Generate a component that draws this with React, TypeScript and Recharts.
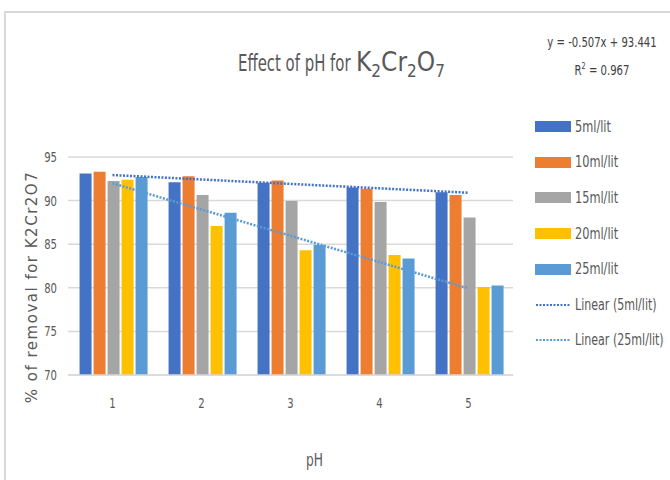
import { Bar, CartesianGrid, ComposedChart, Line, XAxis, YAxis } from 'recharts';

const phLevels = ['1', '2', '3', '4', '5'];
const dose5 = [93.1, 92.1, 92.05, 91.5, 90.95];
const dose10 = [93.3, 92.8, 92.3, 91.35, 90.65];
const dose15 = [92.25, 90.65, 89.95, 89.85, 88.05];
const dose20 = [92.4, 87.1, 84.3, 83.75, 80.1];
const dose25 = [92.7, 88.6, 84.9, 83.35, 80.25];
// trendline ends (gap in between is bridged)
const trend5 = [92.93, null, null, null, 90.9];
const trend25 = [91.99, null, null, null, 79.93];
const yTicks = [70, 75, 80, 85, 90, 95];

const seriesNames = ['5ml/lit', '10ml/lit', '15ml/lit', '20ml/lit', '25ml/lit'];
const seriesColors = ['#4472C4', '#ED7D31', '#A5A5A5', '#FFC000', '#5B9BD5'];
const trendNames = ['Linear (5ml/lit)', 'Linear (25ml/lit)'];
const trendColors = ['#4472C4', '#5B9BD5'];

const font = "'DejaVu Sans Condensed', 'DejaVu Sans', sans-serif";

const data = phLevels.map((ph, i) => ({
  ph,
  d5: dose5[i],
  d10: dose10[i],
  d15: dose15[i],
  d20: dose20[i],
  d25: dose25[i],
  t5: trend5[i],
  t25: trend25[i],
}));

const barKeys = ['d5', 'd10', 'd15', 'd20', 'd25'];

// condensed look: squeeze the text horizontally
const YTick = ({ x, y, payload }: any) => (
  <text
    transform={`translate(${x},${y}) scale(0.8,1)`}
    textAnchor='end'
    dy='0.36em'
    fill='#595959'
    fontSize={14}
    fontFamily={font}
  >
    {payload.value}
  </text>
);

const XTick = ({ x, y, payload }: any) => (
  <text
    transform={`translate(${x},${y}) scale(0.8,1)`}
    textAnchor='middle'
    dy='0.71em'
    fill='#595959'
    fontSize={14}
    fontFamily={font}
  >
    {payload.value}
  </text>
);

const squeeze = (s: number) => ({
  display: 'inline-block',
  transform: `scaleX(${s})`,
  transformOrigin: 'left center',
  whiteSpace: 'nowrap' as const,
});

const LegendBox = () => (
  <div style={{ position: 'absolute', left: 535, top: 109, fontFamily: font, fontSize: 15, color: '#595959' }}>
    {seriesNames.map((name, i) => (
      <div key={name} style={{ display: 'flex', alignItems: 'center', height: 35.6 }}>
        <div style={{ width: 36, height: 11, background: seriesColors[i], marginRight: 4 }} />
        <span style={squeeze(0.84)}>{name}</span>
      </div>
    ))}
    {trendNames.map((name, i) => (
      <div key={name} style={{ display: 'flex', alignItems: 'center', height: 35.6 }}>
        <svg width={36} height={6} style={{ marginRight: 4 }}>
          <line x1={1} y1={3} x2={35} y2={3} stroke={trendColors[i]} strokeWidth={2} strokeDasharray='2 1.5' />
        </svg>
        <span style={squeeze(0.82)}>{name}</span>
      </div>
    ))}
  </div>
);

export default function App() {
  return (
    <div style={{ position: 'absolute', left: 0, top: 0, width: 670, height: 480, overflow: 'hidden', background: '#fff' }}>
      <div
        style={{
          position: 'absolute',
          left: 4,
          top: 11,
          width: 800,
          height: 600,
          borderLeft: '2px solid #d9d9d9',
          borderTop: '2px solid #d9d9d9',
        }}
      />
      <ComposedChart
        width={670}
        height={480}
        data={data}
        margin={{ top: 157, right: 157, bottom: 65, left: 38 }}
        barCategoryGap='13%'
        barGap={2}
      >
        <CartesianGrid vertical={false} stroke='#d9d9d9' strokeWidth={1.5} />
        <XAxis
          dataKey='ph'
          height={40}
          axisLine={{ stroke: '#d9d9d9', strokeWidth: 1.5 }}
          tickLine={false}
          tickSize={0}
          tickMargin={23}
          tick={<XTick />}
        />
        <YAxis
          domain={[70, 95]}
          ticks={yTicks}
          width={30}
          axisLine={false}
          tickLine={false}
          tickSize={0}
          tickMargin={11}
          tick={<YTick />}
        />
        {barKeys.map((key, i) => (
          <Bar key={key} dataKey={key} name={seriesNames[i]} fill={seriesColors[i]} isAnimationActive={false} />
        ))}
        <Line
          type='linear'
          dataKey='t5'
          stroke={trendColors[0]}
          strokeWidth={2.5}
          strokeDasharray='2 1.5'
          dot={false}
          activeDot={false}
          connectNulls
          isAnimationActive={false}
        />
        <Line
          type='linear'
          dataKey='t25'
          stroke={trendColors[1]}
          strokeWidth={2.5}
          strokeDasharray='2 1.5'
          dot={false}
          activeDot={false}
          connectNulls
          isAnimationActive={false}
        />
      </ComposedChart>
      <div style={{ position: 'absolute', left: 238, top: 47, fontFamily: font, color: '#595959', whiteSpace: 'nowrap' }}>
        <span style={{ ...squeeze(0.72), fontSize: 23, width: 117 }}>Effect of pH for</span>
        <span style={{ fontSize: 26, marginLeft: 1 }}>
          K<sub style={{ fontSize: 17 }}>2</sub>Cr<sub style={{ fontSize: 17 }}>2</sub>O<sub style={{ fontSize: 17 }}>7</sub>
        </span>
      </div>
      <div
        style={{
          position: 'absolute',
          left: 602,
          top: 30,
          transform: 'translateX(-50%) scaleX(0.8)',
          textAlign: 'center',
          fontFamily: font,
          fontSize: 14,
          color: '#404040',
          lineHeight: '24px',
          whiteSpace: 'nowrap',
        }}
      >
        <div>y = -0.507x + 93.441</div>
        <div>
          R<sup style={{ fontSize: 9 }}>2</sup> = 0.967
        </div>
      </div>
      <div
        style={{
          position: 'absolute',
          left: 32,
          top: 287,
          transform: 'translate(-50%, -50%) rotate(-90deg)',
          fontFamily: "'DejaVu Sans', sans-serif",
          fontSize: 15,
          letterSpacing: 1.5,
          color: '#595959',
          whiteSpace: 'nowrap',
        }}
      >
        % of removal for K2Cr2O7
      </div>
      <div style={{ position: 'absolute', left: 306, top: 450, fontFamily: font, fontSize: 17, color: '#595959' }}>
        <span style={squeeze(0.8)}>pH</span>
      </div>
      <LegendBox />
    </div>
  );
}
